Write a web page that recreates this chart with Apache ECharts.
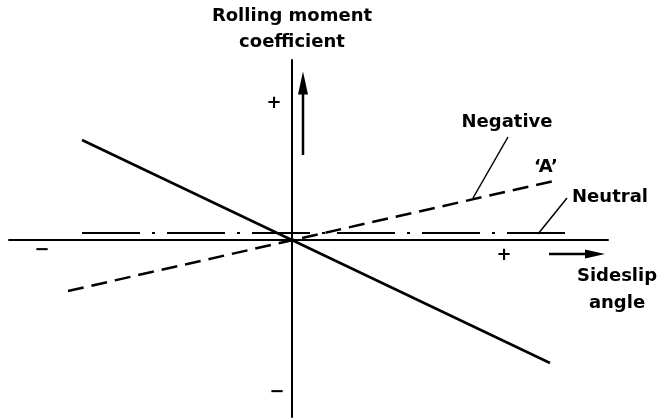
<!DOCTYPE html>
<html lang="en">
<head>
    <meta charset="UTF-8">
    <title>Rolling moment vs sideslip</title>
    <style>
        body, html { margin: 0; padding: 0; background: #fff; }
        #main { width: 665px; height: 420px; }
    </style>
</head>
<body>
<div id="main"></div>
<script src="https://cdn.jsdelivr.net/npm/echarts@6/dist/echarts.min.js"></script>
<script>
    // axis ranges (sideslip angle / rolling moment, arbitrary units)
    var xRange = [-14.15, 15.8];
    var yRange = [-8.85, 9.0];

    // the three curves, end points
    var stableLine = [[-10.5, 5.0], [12.9, -6.15]];
    var negativeLine = [[-11.2, -2.55], [13.3, 3.0]];   // 'A'
    var neutralLine = [[-10.5, 0.35], [13.8, 0.35]];

    // leader lines for the labels
    var negativeLeader = [[10.8, 5.15], [9.05, 2.1]];
    var neutralLeader = [[13.75, 2.1], [12.3, 0.3]];

    // direction arrows: shaft + head centre
    var upShaft = [[0.55, 4.25], [0.55, 7.6]];
    var upHead = [0.55, 7.85];
    var rightShaft = [[12.85, -0.7], [14.9, -0.7]];
    var rightHead = [15.15, -0.7];

    var ink = '#000';
    var font = 'bold 18px "DejaVu Sans"';

    function seg(data, width, type) {
        return {
            type: 'line',
            data: data,
            showSymbol: false,
            symbol: 'none',
            clip: false,
            silent: true,
            lineStyle: { color: ink, width: width, type: type || 'solid' }
        };
    }

    function label(text, x, y) {
        return {
            type: 'text',
            x: x,
            y: y,
            silent: true,
            style: {
                text: text,
                font: font,
                fill: ink,
                textAlign: 'center',
                textVerticalAlign: 'middle',
                lineHeight: 27
            }
        };
    }

    var myChart = echarts.init(document.getElementById('main'));
    myChart.setOption({
        backgroundColor: '#fff',
        animation: false,
        grid: { left: 9, right: 57, top: 60, bottom: 3 },
        xAxis: {
            type: 'value',
            min: xRange[0],
            max: xRange[1],
            axisLine: { onZero: true, lineStyle: { color: ink, width: 2 } },
            axisTick: { show: false },
            axisLabel: { show: false },
            splitLine: { show: false }
        },
        yAxis: {
            type: 'value',
            min: yRange[0],
            max: yRange[1],
            name: 'Rolling moment\ncoefficient',
            nameLocation: 'end',
            nameGap: 5,
            nameTextStyle: {
                color: ink,
                fontFamily: 'DejaVu Sans',
                fontWeight: 'bold',
                fontSize: 18,
                lineHeight: 26,
                align: 'center',
                verticalAlign: 'bottom'
            },
            axisLine: { onZero: true, lineStyle: { color: ink, width: 2 } },
            axisTick: { show: false },
            axisLabel: { show: false },
            splitLine: { show: false }
        },
        series: [
            seg(stableLine, 2.5),
            seg(negativeLine, 2.5, [16, 8]),
            seg(neutralLine, 2, [58, 12, 3, 12]),
            seg(negativeLeader, 1.5),
            seg(neutralLeader, 1.5),
            seg(upShaft, 2.5),
            seg(rightShaft, 2.5),
            {
                type: 'scatter',
                silent: true,
                clip: false,
                symbol: 'triangle',
                itemStyle: { color: ink, opacity: 1 },
                data: [
                    { value: upHead, symbolSize: [10, 23], symbolRotate: 0 },
                    { value: rightHead, symbolSize: [9, 20], symbolRotate: -90 }
                ]
            }
        ],
        graphic: [
            label('+', 274, 103),
            label('\u2212', 42, 250),
            label('+', 504, 255),
            label('\u2212', 277, 392),
            label('Negative', 507, 122),
            label('\u2018A\u2019', 546, 167),
            label('Neutral', 610, 197),
            label('Sideslip\nangle', 617, 290)
        ]
    });
</script>
</body>
</html>
